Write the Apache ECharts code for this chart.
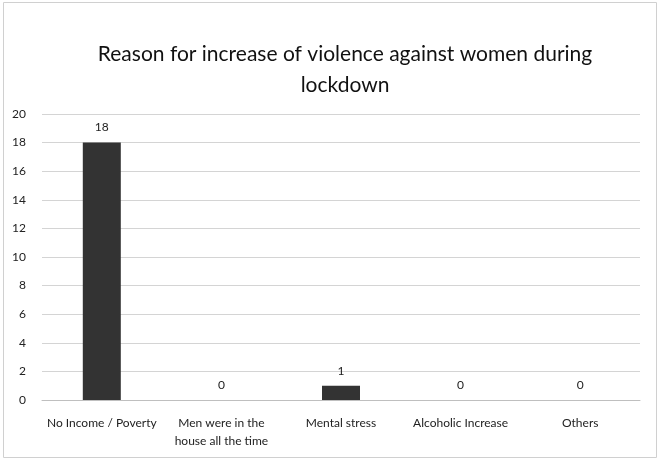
<!DOCTYPE html>
<html><head><meta charset="utf-8">
<script src="https://cdn.jsdelivr.net/npm/echarts@6/dist/echarts.min.js"></script>
<style>html,body{margin:0;padding:0;background:#fff}#c{width:660px;height:461px}</style>
</head><body><div id="c"></div>
<script>
const categories = ["No Income / Poverty", "Men were in the\nhouse all the time", "Mental stress", "Alcoholic Increase", "Others"];
const values = [18, 0, 1, 0, 0];
const titleText = "Reason for increase of violence against women during\nlockdown";
const font = "Lato, 'Open Sans', sans-serif";
const chart = echarts.init(document.getElementById('c'));
chart.setOption({
  animation: false,
  graphic: [{type:'rect', shape:{x:3.5,y:2.5,width:653,height:455}, style:{fill:'none', stroke:'#d0d0d0', lineWidth:1}}],
  title: {text: titleText, left: 340, top: 34, textAlign: 'center',
    textStyle: {fontFamily: font, fontSize: 21, fontWeight: 'normal', color: '#111', lineHeight: 31}},
  grid: {left: 42, right: 20, top: 114, bottom: 61},
  xAxis: {type: 'category', data: categories,
    axisLine: {lineStyle: {color: '#bfbfbf', width: 1}}, axisTick: {show: false},
    axisLabel: {fontFamily: font, fontSize: 12, color: '#222', interval: 0, margin: 14, lineHeight: 18}},
  yAxis: {type: 'value', min: 0, max: 20, interval: 2,
    axisLine: {show: false}, axisTick: {show: false},
    splitLine: {lineStyle: {color: '#d4d4d4'}},
    axisLabel: {fontFamily: font, fontSize: 12, color: '#222', margin: 16}},
  series: [{type: 'bar', data: values, barWidth: 38,
    itemStyle: {color: '#333333'},
    label: {show: true, position: 'top', fontFamily: font, fontSize: 12, color: '#222', distance: 9}}]
});
</script></body></html>
